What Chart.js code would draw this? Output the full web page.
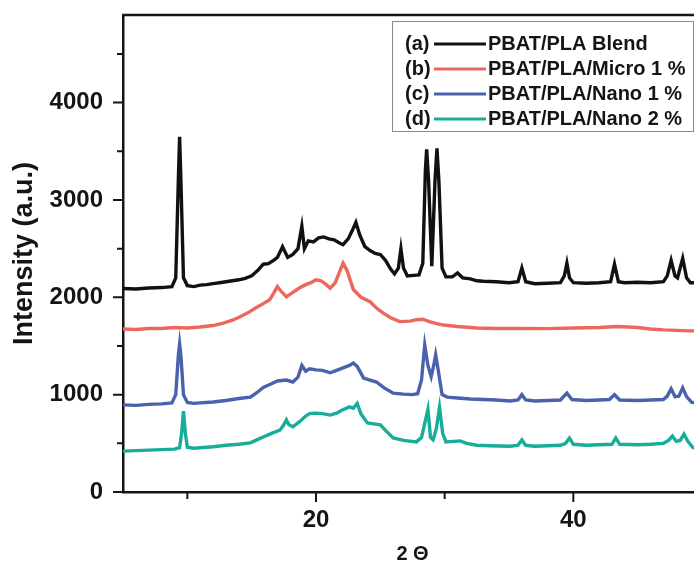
<!DOCTYPE html>
<html>
<head>
<meta charset="utf-8">
<script src="https://cdn.jsdelivr.net/npm/chart.js@4.4.1/dist/chart.umd.min.js"></script>
<style>
  html, body { margin: 0; padding: 0; background: #fff; overflow: hidden; width: 694px; height: 562px; }
  canvas { display: block; }
</style>
</head>
<body>
<canvas id="xrdChart" width="720" height="566"></canvas>
<script>
// Series names and colours
const seriesTags = ['(a)', '(b)', '(c)', '(d)'];
const seriesNames = ['PBAT/PLA Blend', 'PBAT/PLA/Micro 1 %', 'PBAT/PLA/Nano 1 %', 'PBAT/PLA/Nano 2 %'];
const seriesColors = ['#111111', '#ec675e', '#4a62ad', '#18ad98'];

// (a) PBAT/PLA Blend
const thetaA = [5.0, 6.0, 7.0, 8.0, 8.8, 9.1, 9.3, 9.4, 9.5, 9.7, 10.0, 10.5, 11.0, 11.5, 12.0, 12.5, 13.0, 13.5, 14.0, 14.5,
  15.0, 15.5, 15.9, 16.3, 16.7, 17.0, 17.4, 17.8, 18.2, 18.6, 18.9, 19.1, 19.4, 19.8, 20.2, 20.6, 21.0, 21.4, 21.8, 22.1,
  22.5, 22.8, 23.1, 23.4, 23.8, 24.2, 24.6, 25.0, 25.4, 25.8, 26.1, 26.4, 26.6, 26.8, 27.1, 27.6, 28.0, 28.3, 28.5, 28.6,
  28.75, 29.0, 29.25, 29.4, 29.55, 29.8, 30.1, 30.6, 31.0, 31.4, 32.0, 32.5, 33.0, 34.0, 35.0, 35.7, 36.0, 36.3, 37.0, 38.0,
  39.0, 39.3, 39.5, 39.7, 40.0, 41.0, 42.0, 42.9, 43.2, 43.5, 44.0, 45.0, 46.0, 47.0, 47.3, 47.6, 47.9, 48.1, 48.5, 48.8,
  49.1, 50.0];
const countsA = [2090, 2085, 2095, 2100, 2110, 2200, 3200, 3650, 3200, 2200, 2120, 2110, 2125, 2130, 2140, 2150, 2160, 2170, 2180, 2195,
  2220, 2280, 2340, 2345, 2380, 2410, 2520, 2410, 2440, 2500, 2730, 2500, 2580, 2570, 2610, 2620, 2600, 2590, 2560, 2540,
  2600, 2680, 2770, 2640, 2520, 2480, 2450, 2440, 2380, 2290, 2240, 2300, 2500, 2300, 2220, 2225, 2230, 2350, 3300, 3520,
  3200, 2320, 3200, 3530, 3200, 2300, 2210, 2210, 2250, 2200, 2190, 2170, 2165, 2160, 2150, 2160, 2300, 2160, 2140, 2145,
  2150, 2220, 2350, 2200, 2150, 2145, 2150, 2160, 2340, 2160, 2150, 2155, 2150, 2160, 2220, 2380, 2220, 2200, 2400, 2200,
  2150, 2150];

// (b) PBAT/PLA/Micro 1 %
const thetaB = [5, 6, 7, 8, 9, 10, 11, 12, 12.8, 13.5, 14.1, 14.7, 15.3, 15.9, 16.4, 16.7, 17.0, 17.3, 17.7, 18.2,
  18.7, 19.2, 19.6, 20.0, 20.4, 20.8, 21.1, 21.5, 21.8, 22.1, 22.4, 22.9, 23.5, 24.2, 24.7, 25.2, 25.8, 26.5, 27.3, 27.8,
  28.3, 28.8, 29.4, 29.9, 31, 32.5, 34, 36, 38, 40, 42, 43.5, 45, 46, 47, 48, 49, 50];
const countsB = [1675, 1670, 1680, 1680, 1690, 1685, 1695, 1710, 1735, 1765, 1800, 1840, 1890, 1935, 1975, 2040, 2110, 2060, 2005, 2050,
  2095, 2130, 2150, 2180, 2170, 2130, 2095, 2150, 2250, 2350, 2280, 2080, 2000, 1955, 1890, 1840, 1790, 1750, 1755, 1770,
  1775, 1750, 1730, 1715, 1700, 1685, 1680, 1680, 1678, 1685, 1690, 1700, 1690, 1675, 1665, 1660, 1655, 1655];

// (c) PBAT/PLA/Nano 1 %
const thetaC = [5, 6, 7, 8, 8.8, 9.1, 9.3, 9.4, 9.5, 9.7, 10, 10.5, 11, 12, 13, 14, 14.9, 15.4, 15.9, 16.5,
  17.0, 17.7, 18.2, 18.6, 18.9, 19.2, 19.5, 20, 20.5, 21.1, 21.6, 22.2, 22.6, 22.9, 23.2, 23.7, 24.2, 24.7, 25.3, 26,
  26.8, 27.5, 27.9, 28.2, 28.45, 28.7, 28.95, 29.15, 29.3, 29.5, 29.8, 30.2, 31, 32, 33, 34, 35.1, 35.7, 36.0, 36.3,
  37, 38, 39, 39.5, 39.9, 41, 42, 42.8, 43.2, 43.6, 45, 46, 47, 47.3, 47.6, 47.9, 48.2, 48.5, 48.8, 49.2, 50];
const countsC = [895, 890, 900, 905, 915, 1000, 1400, 1520, 1400, 1000, 920, 910, 915, 925, 940, 960, 975, 1020, 1075, 1110,
  1140, 1150, 1130, 1180, 1300, 1240, 1265, 1255, 1250, 1225, 1250, 1280, 1300, 1325, 1290, 1170, 1150, 1130, 1070, 1015,
  1005, 1000, 1010, 1150, 1510, 1300, 1185, 1300, 1410, 1250, 1000, 975, 965, 955, 950, 945, 935, 945, 1000, 945,
  935, 940, 945, 1015, 950, 940, 945, 950, 1000, 945, 940, 945, 950, 985, 1060, 980, 985, 1070, 980, 920, 915];

// (d) PBAT/PLA/Nano 2 %
const thetaD = [5, 6, 7, 8, 9, 9.4, 9.55, 9.7, 9.85, 10.0, 10.5, 11, 12, 13, 14, 14.9, 15.4, 15.9, 16.5, 17.2,
  17.5, 17.7, 17.9, 18.2, 18.7, 19.2, 19.5, 19.9, 20.5, 21.1, 21.6, 22.0, 22.6, 22.9, 23.2, 23.5, 24.0, 24.5, 25.0, 25.5,
  26.0, 26.8, 27.8, 28.2, 28.7, 28.9, 29.1, 29.35, 29.6, 29.85, 30.1, 30.7, 31.2, 31.7, 32.5, 33.5, 35.1, 35.7, 36.0, 36.3,
  37, 38, 39, 39.4, 39.7, 40.0, 41, 42, 43.0, 43.3, 43.6, 45, 46, 47, 47.4, 47.7, 48.0, 48.3, 48.6, 48.9, 49.3, 50];
const countsD = [420, 425, 430, 435, 440, 455, 600, 830, 600, 460, 450, 455, 465, 480, 490, 505, 535, 565, 600, 635,
  690, 740, 690, 670, 720, 780, 805, 810, 805, 790, 810, 840, 875, 860, 910, 800, 710, 700, 690, 620,
  555, 530, 515, 560, 850, 560, 535, 650, 870, 600, 515, 520, 525, 500, 480, 475, 470, 480, 535, 480,
  470, 475, 480, 500, 555, 490, 480, 485, 490, 555, 490, 485, 490, 500, 530, 575, 520, 530, 595, 520, 455, 450];

// Axis ticks
const xMajorTicks = [20, 40];
const xMinorTicks = [10, 30];
const yMajorTicks = [0, 1000, 2000, 3000, 4000];
const yMinorTicks = [500, 1500, 2500, 3500, 4500];

const thetas = [thetaA, thetaB, thetaC, thetaD];
const counts = [countsA, countsB, countsC, countsD];

const FONT = "'Liberation Sans', Arial, sans-serif";
const INK = '#151515';

// Tick marks, top frame line and the boxed legend
const framePlugin = {
  id: 'frame',
  afterDraw(chart) {
    const { ctx, chartArea, scales } = chart;
    const { left, top, right, bottom } = chartArea;
    ctx.save();
    ctx.strokeStyle = INK;
    ctx.lineWidth = 2.5;
    ctx.beginPath();
    ctx.moveTo(left - 1, top);
    ctx.lineTo(right, top);
    ctx.stroke();

    ctx.lineWidth = 2;
    ctx.beginPath();
    yMajorTicks.forEach(v => {
      const y = scales.y.getPixelForValue(v);
      ctx.moveTo(left - 10, y);
      ctx.lineTo(left, y);
    });
    yMinorTicks.forEach(v => {
      const y = scales.y.getPixelForValue(v);
      ctx.moveTo(left - 6, y);
      ctx.lineTo(left, y);
    });
    xMajorTicks.forEach(v => {
      const x = scales.x.getPixelForValue(v);
      ctx.moveTo(x, bottom);
      ctx.lineTo(x, bottom + 10);
    });
    xMinorTicks.forEach(v => {
      const x = scales.x.getPixelForValue(v);
      ctx.moveTo(x, bottom);
      ctx.lineTo(x, bottom + 7);
    });
    ctx.stroke();

    // legend
    const box = { left: 392, top: 21, right: 693, bottom: 131 };
    ctx.fillStyle = '#fff';
    ctx.fillRect(box.left, box.top, box.right - box.left, box.bottom - box.top);
    ctx.strokeStyle = '#8a8a8a';
    ctx.lineWidth = 1;
    ctx.strokeRect(box.left + 0.5, box.top + 0.5, box.right - box.left, box.bottom - box.top);

    ctx.font = 'bold 20px ' + FONT;
    ctx.textBaseline = 'middle';
    chart.data.datasets.forEach((ds, i) => {
      const y = 44 + i * 25;
      ctx.fillStyle = INK;
      ctx.textAlign = 'left';
      ctx.fillText(seriesTags[i], 405, y);
      ctx.strokeStyle = ds.borderColor;
      ctx.lineWidth = 3;
      ctx.beginPath();
      ctx.moveTo(434, y);
      ctx.lineTo(486, y);
      ctx.stroke();
      ctx.fillStyle = INK;
      ctx.fillText(ds.label, 488, y);
    });
    ctx.restore();
  }
};

const datasets = seriesNames.map((name, i) => ({
  label: name,
  data: thetas[i].map((t, j) => ({ x: t, y: counts[i][j] })),
  borderColor: seriesColors[i],
  borderWidth: 3.4,
  pointRadius: 0,
  tension: 0,
  fill: false
}));

const ctx = document.getElementById('xrdChart').getContext('2d');
const xrdChart = new Chart(ctx, {
  type: 'line',
  data: { datasets: datasets },
  options: {
    responsive: false,
    animation: false,
    devicePixelRatio: 1,
    layout: { padding: { left: 0, top: 15, right: 18, bottom: 0 } },
    plugins: {
      legend: { display: false },
      tooltip: { enabled: false }
    },
    scales: {
      x: {
        type: 'linear',
        min: 5,
        max: 50,
        afterBuildTicks: (scale) => { scale.ticks = xMajorTicks.map(v => ({ value: v })); },
        afterFit: (scale) => { scale.height = 74; scale.paddingLeft = 0; scale.paddingRight = 0; },
        ticks: {
          autoSkip: false,
          maxRotation: 0,
          padding: 14,
          color: INK,
          font: { family: FONT, size: 24, weight: 'bold' },
          callback: (v) => String(v)
        },
        grid: { display: false, drawTicks: false },
        border: { display: true, color: INK, width: 2.5 },
        title: {
          display: true,
          text: '2 \u0398',
          color: INK,
          font: { family: FONT, size: 20, weight: 'bold' },
          padding: { top: 0, bottom: 0 }
        }
      },
      y: {
        type: 'linear',
        min: 0,
        max: 4900,
        afterBuildTicks: (scale) => { scale.ticks = yMajorTicks.map(v => ({ value: v })); },
        afterFit: (scale) => { scale.width = 123; scale.paddingTop = 0; scale.paddingBottom = 0; },
        ticks: {
          autoSkip: false,
          padding: 20,
          color: INK,
          font: { family: FONT, size: 24, weight: 'bold' },
          callback: (v) => String(v)
        },
        grid: { display: false, drawTicks: false },
        border: { display: true, color: INK, width: 2.5 },
        title: {
          display: true,
          text: 'Intensity (a.u.)',
          color: INK,
          font: { family: FONT, size: 27, weight: 'bold' },
          padding: { top: 8, bottom: 0 }
        }
      }
    }
  },
  plugins: [framePlugin]
});
</script>
</body>
</html>
